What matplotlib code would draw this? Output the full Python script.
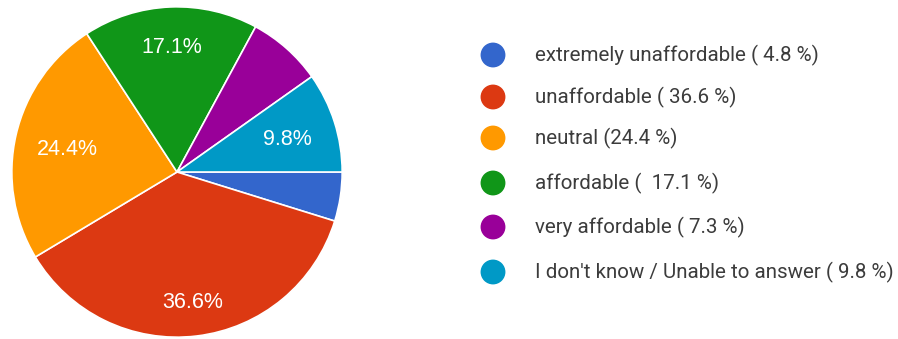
import numpy as np
import matplotlib.pyplot as plt

labels = ["extremely unaffordable ( 4.8 %)", "unaffordable ( 36.6 %)", "neutral (24.4 %)",
          "affordable (  17.1 %)", "very affordable ( 7.3 %)", "I don't know / Unable to answer ( 9.8 %)"]
shares = [4.8, 36.6, 24.4, 17.1, 7.3, 9.8]
colors = ["#3366cc", "#dc3912", "#ff9900", "#109618", "#990099", "#0099c6"]

# how far out each percent label sits (fraction of radius); small slices get none
label_r = [0, 0.78, 0.68, 0.77, 0, 0.70]

W, H = 898, 339
fig = plt.figure(figsize=(W / 100, H / 100), dpi=100)

cx, cy, r = 177, 172, 166
ax = fig.add_axes([(cx - r) / W, (H - cy - r) / H, 2 * r / W, 2 * r / H])
wedges, _ = ax.pie(shares, colors=colors, startangle=0, counterclock=False,
                   wedgeprops=dict(edgecolor="white", linewidth=1.2))
ax.set_xlim(-1.005, 1.005)
ax.set_ylim(-1.005, 1.005)
ax.set_aspect("equal")

for w, s, d in zip(wedges, shares, label_r):
    if d == 0:
        continue
    ang = np.deg2rad((w.theta1 + w.theta2) / 2)
    ax.text(d * np.cos(ang), d * np.sin(ang), f"{s}%", color="white",
            fontsize=15.5, family="Liberation Sans", ha="center", va="center_baseline")

# legend drawn in pixel coords
lg = fig.add_axes([0, 0, 1, 1])
lg.set_xlim(0, W)
lg.set_ylim(H, 0)
lg.axis("off")
row_y = [55, 97, 138, 183, 227, 272]
for y, c, t in zip(row_y, colors, labels):
    lg.scatter(493, y, s=320, color=c, edgecolors="none")
    lg.text(535, y, t, fontsize=14.8, family="Roboto", color="#3c3c3c", va="center")

fig.savefig("out.png", dpi=100)
